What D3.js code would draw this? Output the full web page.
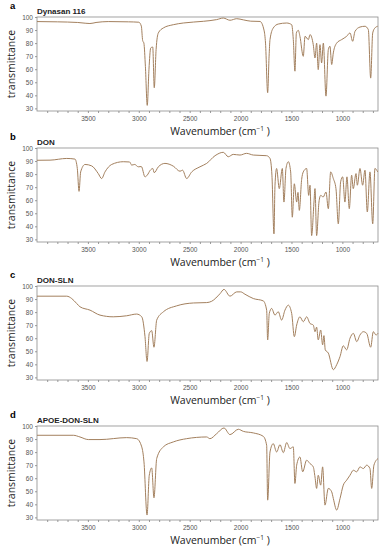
<!DOCTYPE html>
<html>
<head>
<meta charset="utf-8">
<script src="https://cdn.jsdelivr.net/npm/d3@7"></script>
<style>
  body { margin: 0; background: #fff; }
  svg { display: block; }
</style>
</head>
<body>
<div id="chart"></div>
<script>
// spectra: [wavenumber cm-1, transmittance %]
const dynasan116 = [
  [4000, 96.5], [3800, 96.3], [3600, 95.8], [3520, 95.2], [3480, 95.0], [3420, 95.8], [3300, 96.5],
  [3100, 96.3], [3000, 96.0], [2975, 93], [2962, 82], [2950, 80], [2935, 62], [2917, 32.3],
  [2900, 60], [2883, 76.3], [2863, 77], [2848, 45.8], [2830, 75], [2808, 87.8], [2759, 91.6],
  [2661, 94.1], [2563, 95.4], [2366, 96.7], [2235, 98], [2170, 99.2], [2104, 97.5], [2038, 98.7],
  [1973, 97.8], [1900, 96.8], [1809, 96.6], [1770, 90], [1755, 80], [1734, 42], [1720, 70],
  [1711, 82.7], [1679, 91.6], [1630, 94.6], [1547, 95.4], [1498, 94.1], [1482, 82.7], [1466, 58.5],
  [1452, 87.8], [1433, 89.8], [1417, 85.2], [1384, 69.9], [1367, 85.2], [1334, 82.7], [1318, 86.5],
  [1286, 78.8], [1269, 68.6], [1253, 80], [1237, 59.7], [1220, 78.8], [1204, 64.8], [1187, 80],
  [1161, 39.4], [1138, 75], [1122, 77.6], [1105, 63.6], [1089, 72.5], [1056, 80], [1007, 82.7],
  [958, 85.2], [925, 87.8], [899, 81.4], [876, 89], [827, 92.3], [778, 92.9], [745, 90.3],
  [722, 53.2], [702, 87.8], [680, 91.6], [653, 92.9]
];

const don = [
  [4000, 90.6], [3872, 90.7], [3708, 92], [3627, 91.5], [3604, 84.3], [3587, 66.8], [3571, 81.7],
  [3528, 87.4], [3463, 86.3], [3398, 80.4], [3365, 76.6], [3332, 81.7], [3266, 87.4], [3152, 89.5],
  [3090, 89.3], [3070, 86.9], [3040, 87.4], [3005, 85.6], [2975, 85.8], [2939, 77.9], [2917, 79.2],
  [2887, 83], [2863, 84.3], [2848, 81.1], [2808, 85.6], [2743, 88.2], [2661, 86.1], [2595, 82.2],
  [2570, 83], [2530, 76.6], [2480, 81.7], [2399, 85.6], [2333, 88.2], [2251, 94.1], [2170, 96.7],
  [2121, 93.3], [2072, 95.1], [2006, 94.6], [1941, 95.9], [1875, 94.6], [1744, 94.1], [1711, 92],
  [1692, 79.2], [1672, 34.2], [1662, 71.5], [1646, 84.3], [1620, 68.9], [1590, 84.3], [1574, 58.6],
  [1554, 84.3], [1531, 89.5], [1508, 81.7], [1492, 47], [1472, 72.6], [1449, 58.6], [1436, 66],
  [1423, 52.2], [1400, 76], [1384, 81.7], [1351, 84.3], [1331, 63.7], [1318, 71.5], [1302, 32.9],
  [1279, 58.6], [1269, 68.9], [1253, 32.9], [1230, 58.6], [1213, 63.7], [1188, 62.5], [1161, 66.3],
  [1138, 53.5], [1115, 81.7], [1089, 76.6], [1063, 68.9], [1040, 41.9], [1017, 74.1], [997, 77.9],
  [975, 58.6], [955, 77.9], [932, 53.5], [909, 79.2], [893, 68.9], [866, 80.4], [853, 71.5],
  [827, 84.3], [801, 71.5], [778, 83], [755, 51], [729, 81.7], [702, 41.9], [680, 84.3], [653, 81.7]
];

const donSln = [
  [4000, 92.2], [3708, 92.2], [3659, 90.4], [3610, 86.6], [3578, 84.1], [3479, 81.5], [3381, 77.7],
  [3251, 76.4], [3119, 77.2], [3021, 78.5], [2971, 76.4], [2939, 61.2], [2919, 42.2], [2897, 63.7],
  [2873, 65.8], [2851, 53.1], [2824, 73.9], [2759, 80.2], [2628, 84.8], [2464, 87], [2333, 87.3],
  [2284, 88.3], [2202, 94.1], [2163, 97.4], [2104, 92.2], [2038, 95.5], [1999, 95.5], [1957, 93.7],
  [1875, 90.4], [1777, 88.6], [1744, 81.5], [1734, 58.7], [1718, 79], [1695, 82.8], [1662, 77.7],
  [1630, 80.3], [1597, 73.9], [1564, 81.5], [1531, 85.3], [1498, 79], [1472, 61.2], [1449, 70.1],
  [1417, 76.4], [1384, 72.6], [1351, 76.4], [1318, 71.3], [1286, 70.1], [1269, 65], [1253, 68.5],
  [1237, 58.7], [1213, 66.3], [1194, 54.9], [1181, 62], [1168, 51.1], [1138, 48.6], [1089, 35.9],
  [1056, 39.7], [1023, 46], [991, 54.2], [958, 51.1], [925, 60], [892, 63.7], [859, 57.4],
  [827, 62.5], [794, 65], [761, 63.7], [722, 53.1], [696, 65], [670, 62.5], [650, 63.7]
];

const apoeDonSln = [
  [4000, 92.9], [3643, 92.9], [3578, 91.6], [3496, 89.6], [3381, 89.6], [3119, 91.1], [3021, 90.3],
  [2971, 84], [2949, 72.5], [2919, 31.8], [2897, 62.3], [2873, 67.9], [2851, 45], [2824, 75.1],
  [2759, 84], [2661, 87.8], [2530, 90.3], [2333, 91.6], [2301, 90.3], [2235, 94.1], [2163, 98.5],
  [2104, 93.4], [2022, 97.5], [1973, 95.9], [1875, 94.7], [1777, 92.1], [1744, 85.2], [1734, 43.2],
  [1711, 80.1], [1679, 86.5], [1646, 80.1], [1613, 85.7], [1580, 79.6], [1547, 87.3], [1515, 82.7],
  [1482, 84], [1466, 56], [1449, 70], [1417, 76.3], [1390, 64.9], [1351, 73.8], [1318, 71.2],
  [1286, 68.7], [1269, 61], [1253, 52.2], [1237, 62.3], [1213, 54.7], [1194, 68.7], [1171, 39.4],
  [1138, 52.2], [1105, 49.6], [1089, 44.5], [1056, 35.6], [1023, 44.5], [991, 54.7], [958, 58.5],
  [925, 62.3], [892, 66.1], [859, 64.9], [827, 68.7], [794, 67.4], [761, 70], [729, 67.4],
  [712, 52.2], [690, 70], [650, 75.1]
];

const panelLetters = ['a', 'b', 'c', 'd'];
const panelTitles = ['Dynasan 116', 'DON', 'DON-SLN', 'APOE-DON-SLN'];
const yTickValues = [30, 40, 50, 60, 70, 80, 90, 100];
const xTickValues = d3.range(700, 4000, 100);
const xLabelValues = [3500, 3000, 2500, 2000, 1500, 1000];

const spectra = [dynasan116, don, donSln, apoeDonSln];

const W = 385;
const H = 550;
const left = 37;
const right = 378;
const boxH = 94;
const tops = [17, 148, 286, 426];
const lineColor = '#a3805e';

const svg = d3.select('#chart').append('svg')
  .attr('width', W)
  .attr('height', H)
  .attr('viewBox', `0 0 ${W} ${H}`);

const x = d3.scaleLinear().domain([4000, 650]).range([left, right]);

spectra.forEach((data, i) => {
  const top = tops[i];
  const y = d3.scaleLinear().domain([28, 100]).range([top + boxH, top]);

  const g = svg.append('g').attr('class', 'panel');

  // panel letter + sample name
  g.append('text')
    .attr('x', 10)
    .attr('y', top - 8)
    .style('font-family', 'Liberation Sans, Arial, sans-serif')
    .style('font-weight', 'bold')
    .style('font-size', '9.5px')
    .text(panelLetters[i]);

  g.append('text')
    .attr('x', left)
    .attr('y', top - 3)
    .style('font-family', 'Liberation Sans, Arial, sans-serif')
    .style('font-weight', 'bold')
    .style('font-size', '8px')
    .style('fill', '#222')
    .text(panelTitles[i]);

  // y axis
  const yAx = g.append('g')
    .attr('transform', `translate(${left},0)`)
    .call(d3.axisLeft(y).tickValues(yTickValues).tickSize(2).tickPadding(2));
  yAx.select('.domain').remove();
  yAx.selectAll('text')
    .style('font-family', 'Liberation Sans, Arial, sans-serif')
    .style('font-size', '6.5px')
    .style('fill', '#555');
  yAx.selectAll('line').style('stroke', '#999');

  // x axis, minor tick every 100, label every 500
  const xAx = g.append('g')
    .attr('transform', `translate(0,${top + boxH})`)
    .call(d3.axisBottom(x)
      .tickValues(xTickValues)
      .tickSize(2)
      .tickPadding(3)
      .tickFormat(d => (xLabelValues.includes(d) ? d : '')));
  xAx.select('.domain').remove();
  xAx.selectAll('text')
    .style('font-family', 'Liberation Sans, Arial, sans-serif')
    .style('font-size', '6.5px')
    .style('fill', '#555');
  xAx.selectAll('line').style('stroke', '#999');

  // plot frame
  g.append('rect')
    .attr('x', left)
    .attr('y', top)
    .attr('width', right - left)
    .attr('height', boxH)
    .style('fill', 'none')
    .style('stroke', '#8c8c8c')
    .style('stroke-width', 0.8);

  const line = d3.line()
    .curve(d3.curveMonotoneX)
    .x(d => x(d[0]))
    .y(d => y(d[1]));

  g.append('path')
    .datum(data)
    .attr('d', line)
    .style('fill', 'none')
    .style('stroke', lineColor)
    .style('stroke-width', 1)
    .style('stroke-linejoin', 'round');

  // axis titles
  g.append('text')
    .attr('transform', `translate(15,${top + boxH / 2}) rotate(-90)`)
    .attr('text-anchor', 'middle')
    .style('font-family', 'Open Sans, sans-serif')
    .style('font-size', '10.5px')
    .style('fill', '#222')
    .text('transmittance');

  const xt = g.append('text')
    .attr('x', 220)
    .attr('y', top + boxH + 24)
    .attr('text-anchor', 'middle')
    .style('font-family', 'Open Sans, sans-serif')
    .style('font-size', '10.5px')
    .style('fill', '#222');
  xt.append('tspan').text('Wavenumber (cm');
  xt.append('tspan').attr('dy', -4).style('font-size', '6.5px').text('−1');
  xt.append('tspan').attr('dy', 4).text(' )');
});
</script>
</body>
</html>
